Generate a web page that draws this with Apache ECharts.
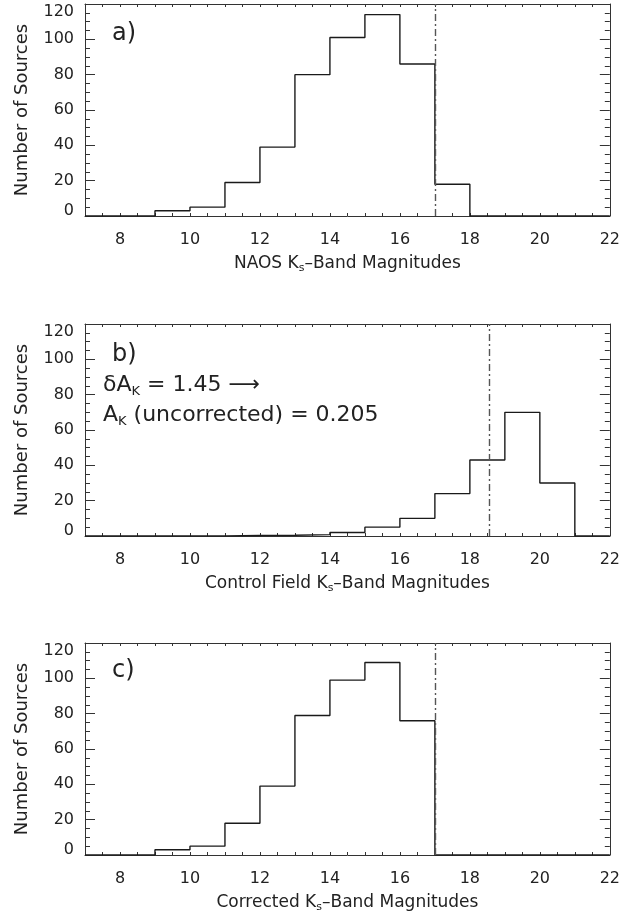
<!DOCTYPE html>
<html>
<head>
<meta charset="utf-8">
<script src="https://cdn.jsdelivr.net/npm/echarts@6/dist/echarts.min.js"></script>
<style>
html,body{margin:0;padding:0;background:#fff;}
#c{width:623px;height:916px;}
</style>
</head>
<body>
<div id="c"></div>
<script>
// ---- data ----
var binLeftEdges = [7, 8, 9, 10, 11, 12, 13, 14, 15, 16, 17, 18, 19, 20, 21];
var binEnd = 22;
var naosCounts    = [0, 0, 3, 5, 19, 39, 80, 101, 114, 86, 18, 0, 0, 0, 0];
var controlCounts = [0, 0, 0, 0, 0.3, 0.4, 0.8, 2, 5, 10, 24, 43, 70, 30, 0];
var correctedCounts = [0, 0, 3, 5, 18, 39, 79, 99, 109, 76, 0, 0, 0, 0, 0];
var cutoffs = [17, 18.55, 17];
var xTickLabels = [8, 10, 12, 14, 16, 18, 20, 22];
var yTickLabels = [0, 20, 40, 60, 80, 100, 120];
var panelLetters = ['a)', 'b)', 'c)'];
var xTitlePrefixes = ['NAOS K', 'Control Field K', 'Corrected K'];
var xTitleSub = 's';
var xTitleSuffix = '\u2013Band Magnitudes';
var yTitle = 'Number of Sources';
var noteLine1 = ['\u03b4A', 'K', ' = 1.45 \u27f6'];
var noteLine2 = ['A', 'K', ' (uncorrected) = 0.205'];

// ---- layout ----
var FONT = 'DejaVu Sans';
var TXT = '#222';
var AX = '#333';
var gridTops = [4, 324, 643];
var GL = 85, GW = 525, GH = 212;

function stepData(counts) {
  var d = [];
  for (var i = 0; i < binLeftEdges.length; i++) d.push([binLeftEdges[i], counts[i]]);
  d.push([binEnd, 0]);
  return d;
}

var grids = [], xAxes = [], yAxes = [], series = [];
var allCounts = [naosCounts, controlCounts, correctedCounts];
for (var g = 0; g < 3; g++) {
  grids.push({left: GL, top: gridTops[g], width: GW, height: GH, containLabel: false});
  var xBase = {
    type: 'value', gridIndex: g, min: binLeftEdges[0], max: binEnd, interval: 0.5,
    axisLine: {show: true, onZero: false, lineStyle: {color: AX, width: 1}},
    axisTick: {show: true, inside: true, length: 3, lineStyle: {color: AX}},
    splitLine: {show: false}
  };
  xAxes.push(Object.assign({}, xBase, {
    position: 'bottom',
    axisLabel: {show: true, customValues: xTickLabels, margin: 16, fontFamily: FONT, fontSize: 16, color: TXT},
    name: '{n|' + xTitlePrefixes[g] + '}{s|' + xTitleSub + '}{n|' + xTitleSuffix + '}',
    nameLocation: 'middle', nameGap: 38,
    nameTextStyle: {
      fontFamily: FONT, fontSize: 17, color: TXT,
      rich: {
        n: {fontFamily: FONT, fontSize: 17, color: TXT, lineHeight: 20},
        s: {fontFamily: FONT, fontSize: 11, color: TXT, lineHeight: 11, verticalAlign: 'bottom'}
      }
    }
  }));
  xAxes.push(Object.assign({}, xBase, {position: 'top', axisLabel: {show: false}}));
  var yBase = {
    type: 'value', gridIndex: g, min: 0, max: 120, interval: 20,
    axisLine: {show: true, onZero: false, lineStyle: {color: AX, width: 1}},
    axisTick: {show: true, inside: true, length: 10, lineStyle: {color: AX}},
    minorTick: {show: true, splitNumber: 4, length: 5, lineStyle: {color: AX}},
    splitLine: {show: false}, minorSplitLine: {show: false}
  };
  yAxes.push(Object.assign({}, yBase, {
    position: 'left',
    axisLabel: {show: true, margin: 11, fontFamily: FONT, fontSize: 16, color: TXT,
      verticalAlignMaxLabel: 'top',
      formatter: function (v) { return v === yTickLabels[0] ? '{z|' + v + '}' : String(v); },
      rich: {z: {fontFamily: FONT, fontSize: 16, color: TXT, padding: [0, 0, 10, 0]}}
    },
    name: yTitle, nameLocation: 'middle', nameGap: 54, nameRotate: 90,
    nameTextStyle: {fontFamily: FONT, fontSize: 18, color: TXT}
  }));
  yAxes.push(Object.assign({}, yBase, {position: 'right', axisLabel: {show: false}}));

  series.push({
    type: 'line', xAxisIndex: 2 * g, yAxisIndex: 2 * g,
    step: 'end', symbol: 'none', silent: true, animation: false,
    lineStyle: {color: '#1a1a1a', width: 1.4},
    data: stepData(allCounts[g]),
    markLine: {
      silent: true, symbol: ['none', 'none'], animation: false,
      label: {show: false},
      lineStyle: {color: '#555', width: 1.4, type: [7, 3, 2, 3]},
      data: [{xAxis: cutoffs[g]}]
    }
  });
}

var graphics = [];
var letterTops = [18, 19, 16];
for (var k = 0; k < 3; k++) {
  graphics.push({
    type: 'text', left: 112, top: gridTops[k] + letterTops[k],
    style: {text: panelLetters[k], font: '24px "DejaVu Sans"', fill: TXT}
  });
}
var richNote = {
  m: {fontFamily: FONT, fontSize: 22, fill: TXT, lineHeight: 26},
  s: {fontFamily: FONT, fontSize: 13, fill: TXT, lineHeight: 13, verticalAlign: 'bottom'}
};
graphics.push({
  type: 'text', left: 103, top: 374,
  style: {text: '{m|' + noteLine1[0] + '}{s|' + noteLine1[1] + '}{m|' + noteLine1[2] + '}', rich: richNote}
});
graphics.push({
  type: 'text', left: 103, top: 404,
  style: {text: '{m|' + noteLine2[0] + '}{s|' + noteLine2[1] + '}{m|' + noteLine2[2] + '}', rich: richNote}
});

var chart = echarts.init(document.getElementById('c'), null, {renderer: 'canvas'});
chart.setOption({
  animation: false,
  backgroundColor: '#fff',
  grid: grids, xAxis: xAxes, yAxis: yAxes, series: series,
  graphic: graphics
});
</script>
</body>
</html>
